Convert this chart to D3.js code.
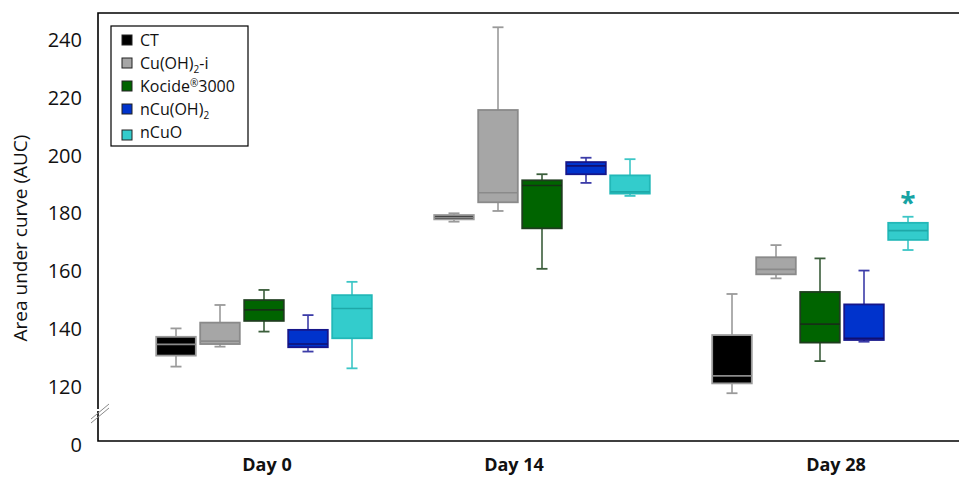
<!DOCTYPE html>
<html>
<head>
<meta charset="utf-8">
<script src="https://cdn.jsdelivr.net/npm/d3@7"></script>
<style>
  body { margin: 0; background: #fff; }
  svg { display: block; font-family: "Open Sans", sans-serif; }
</style>
</head>
<body>
<svg id="main" width="959" height="477"></svg>
<script>
// categories
const days = ["Day 0", "Day 14", "Day 28"];
const treatments = ["CT", "Cu(OH)2-i", "Kocide3000", "nCu(OH)2", "nCuO"];

// box stats per treatment, one entry per day: [whiskerLow, q1, median, q3, whiskerHigh]
const ctStats = [[127.1, 130.9, 134.8, 137.4, 140.3], [177.2, 178.0, 178.7, 179.5, 180.1], [117.9, 121.3, 123.9, 138.0, 152.2]];
const cuiStats = [[134.0, 134.9, 135.9, 142.3, 148.4], [180.9, 183.9, 187.2, 215.8, 244.4], [157.6, 159.0, 160.7, 164.9, 169.1]];
const kocideStats = [[139.2, 142.9, 146.7, 150.1, 153.6], [160.9, 174.9, 189.7, 191.5, 193.6], [129.0, 135.4, 141.8, 152.9, 164.5]];
const ncuohStats = [[132.3, 133.8, 134.9, 139.8, 144.9], [190.6, 193.6, 196.5, 197.8, 199.3], [135.7, 136.3, 136.9, 148.6, 160.3]];
const ncuoStats = [[126.5, 136.9, 147.2, 151.8, 156.4], [186.1, 186.9, 187.5, 193.2, 198.8], [167.4, 170.9, 174.1, 176.8, 178.9]];
const allStats = [ctStats, cuiStats, kocideStats, ncuohStats, ncuoStats];

// y axis ticks (100 is drawn as "0" below the axis break)
const yTicks = [100, 120, 140, 160, 180, 200, 220, 240];

// significance mark
const marks = [{ day: "Day 28", treatment: "nCuO", value: 183 }];

// styles
const fills = ["#000000", "#a6a6a6", "#006400", "#0033cc", "#33cccc"];
const edges = ["#9a9a9a", "#8a8a8a", "#1e3d1e", "#16168a", "#22b8b8"];
const whiskerCols = ["#9a9a9a", "#9a9a9a", "#3b5e3b", "#3c3ca8", "#3cc6c6"];
const medianCols = ["#8a8a8a", "#8a8a8a", "#163016", "#101070", "#1ea8a8"];
const labelNudge = [3, -28, 16];

const svg = d3.select("#main");
const frame = { left: 98, top: 13, bottom: 441, right: 959 };

const y = d3.scaleLinear().domain([100, 240]).range([445, 40]);
const xDay = d3.scalePoint().domain(days).range([264, 820]);
const xTreat = d3.scaleBand().domain(treatments).range([-110, 110]).paddingInner(0.1).paddingOuter(0.05);

// frame lines
svg.append("path")
    .attr("d", `M${frame.right},${frame.top}H${frame.left}V${frame.bottom}H${frame.right}`)
    .attr("fill", "none")
    .attr("stroke", "#000")
    .attr("stroke-width", 1.6);

// axis break marks
svg.append("g").selectAll("line")
    .data([0, 4])
    .join("line")
    .attr("x1", 91).attr("x2", 109)
    .attr("y1", d => 419 + d).attr("y2", d => 404 + d)
    .attr("stroke", "#8a8a8a")
    .attr("stroke-width", 1);
svg.append("rect").attr("x", 97).attr("y", 409).attr("width", 3).attr("height", 2).attr("fill", "#fff");

// y axis labels
const yAxis = svg.append("g")
    .attr("transform", `translate(${frame.left},0)`)
    .call(d3.axisLeft(y).tickValues(yTicks).tickSize(0).tickPadding(16)
        .tickFormat(d => d === 100 ? "0" : d));
yAxis.select(".domain").remove();
yAxis.selectAll("text")
    .attr("font-family", "Open Sans, sans-serif")
    .attr("font-size", 20)
    .attr("fill", "#111");

svg.append("text")
    .attr("transform", "translate(27,238) rotate(-90)")
    .attr("text-anchor", "middle")
    .attr("font-size", 19)
    .attr("fill", "#111")
    .text("Area under curve (AUC)");

// day labels
svg.append("g").selectAll("text")
    .data(days)
    .join("text")
    .attr("x", (d, i) => xDay(d) + labelNudge[i])
    .attr("y", 471)
    .attr("text-anchor", "middle")
    .attr("font-size", 18)
    .attr("font-weight", "bold")
    .attr("fill", "#111")
    .text(d => d);

// boxes
const boxData = [];
treatments.forEach((t, ti) => {
    days.forEach((d, di) => {
        const s = allStats[ti][di];
        boxData.push({ t, ti, d, lo: s[0], q1: s[1], med: s[2], q3: s[3], hi: s[4] });
    });
});

const bw = xTreat.bandwidth();
const boxes = svg.append("g").selectAll("g")
    .data(boxData)
    .join("g")
    .attr("transform", b => `translate(${xDay(b.d) + xTreat(b.t)},0)`);

boxes.append("line")
    .attr("x1", bw / 2).attr("x2", bw / 2)
    .attr("y1", b => y(b.hi)).attr("y2", b => y(b.lo))
    .attr("stroke", b => whiskerCols[b.ti]).attr("stroke-width", 1.6);
boxes.selectAll(".cap")
    .data(b => [b.lo, b.hi].map(v => ({ v, ti: b.ti })))
    .join("line")
    .attr("class", "cap")
    .attr("x1", bw / 2 - 5.5).attr("x2", bw / 2 + 5.5)
    .attr("y1", c => y(c.v)).attr("y2", c => y(c.v))
    .attr("stroke", c => whiskerCols[c.ti]).attr("stroke-width", 1.8);
boxes.append("rect")
    .attr("x", 0).attr("width", bw)
    .attr("y", b => y(b.q3))
    .attr("height", b => y(b.q1) - y(b.q3))
    .attr("fill", b => fills[b.ti])
    .attr("stroke", b => edges[b.ti])
    .attr("stroke-width", 1.8);
boxes.append("line")
    .attr("x1", 0).attr("x2", bw)
    .attr("y1", b => y(b.med)).attr("y2", b => y(b.med))
    .attr("stroke", b => medianCols[b.ti]).attr("stroke-width", 1.6);

// significance asterisk
svg.append("g").selectAll("text")
    .data(marks)
    .join("text")
    .attr("x", m => xDay(m.day) + xTreat(m.treatment) + bw / 2)
    .attr("y", m => y(m.value) + 8)
    .attr("text-anchor", "middle")
    .attr("font-size", 28)
    .attr("font-weight", "bold")
    .attr("fill", "#17a3a3")
    .text("*");

// legend
const legend = svg.append("g").attr("transform", "translate(111,26)");
legend.append("rect")
    .attr("width", 137).attr("height", 120)
    .attr("fill", "#fff").attr("stroke", "#000").attr("stroke-width", 1.2);
const items = legend.selectAll(".item")
    .data(treatments)
    .join("g")
    .attr("class", "item")
    .attr("transform", (d, i) => `translate(11,${10 + i * 23})`);
items.append("rect")
    .attr("x", 0).attr("y", (d, i) => i === 4 ? 2 : -1)
    .attr("width", 10).attr("height", 10)
    .attr("fill", (d, i) => fills[i])
    .attr("stroke", "#222").attr("stroke-width", 1);
const lt = items.append("text")
    .attr("x", 18).attr("y", 10)
    .attr("font-size", 16)
    .attr("fill", "#111");
lt.each(function (d) {
    const t = d3.select(this);
    if (d === "Cu(OH)2-i") {
        t.append("tspan").text("Cu(OH)");
        t.append("tspan").attr("font-size", 10).attr("dy", 4).text("2");
        t.append("tspan").attr("dy", -4).text("-i");
    } else if (d === "nCu(OH)2") {
        t.append("tspan").text("nCu(OH)");
        t.append("tspan").attr("font-size", 10).attr("dy", 4).text("2");
    } else if (d === "Kocide3000") {
        t.append("tspan").text("Kocide");
        t.append("tspan").attr("font-size", 10).attr("dy", -5).text("®");
        t.append("tspan").attr("dy", 5).text("3000");
    } else {
        t.text(d);
    }
});
</script>
</body>
</html>
